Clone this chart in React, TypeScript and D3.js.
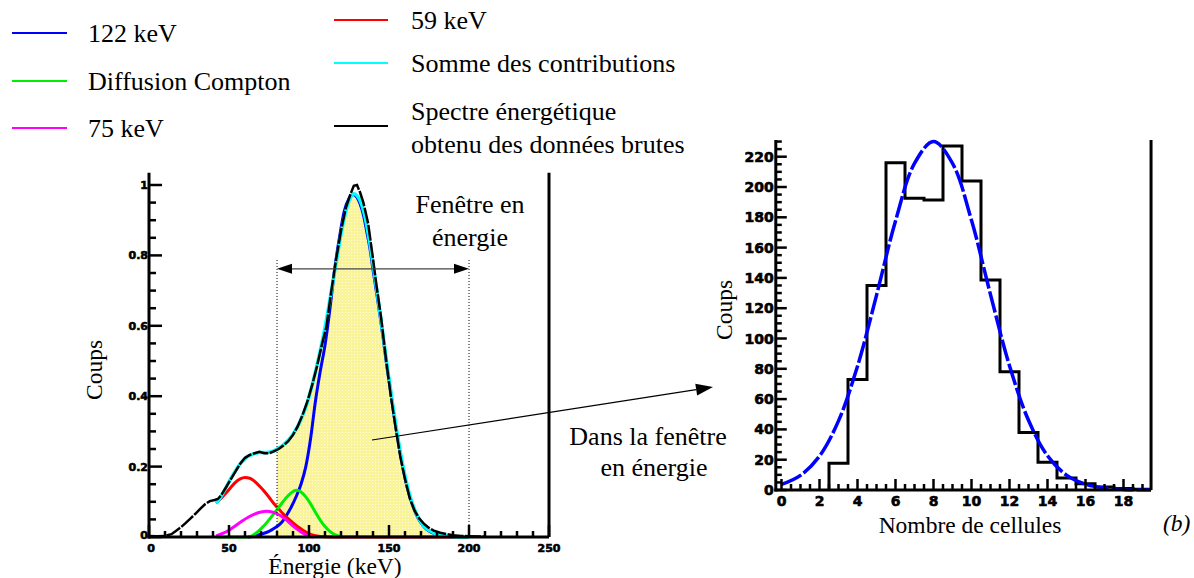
import React from 'react';
import * as d3 from 'd3';

// ---------- Left chart (energy spectrum) ----------
type P = [number, number];
const spectrumRaw: P[] = [
  [0, 0.003], [5, 0.002], [10, 0.003], [14, 0.008], [17, 0.018], [20, 0.028], [23, 0.04], [26, 0.053],
  [29, 0.066], [32, 0.08], [35, 0.093], [38, 0.102], [41, 0.105], [43, 0.108], [45, 0.118], [48, 0.14],
  [51, 0.163], [54, 0.186], [57, 0.208], [60, 0.225], [63, 0.233], [66, 0.238], [69, 0.242], [72, 0.238],
  [75, 0.238], [78, 0.243], [81, 0.25], [84, 0.26], [87, 0.272], [90, 0.29], [93, 0.315], [96, 0.347],
  [99, 0.385], [102, 0.432], [105, 0.485], [108, 0.545], [111, 0.6], [114, 0.7], [117, 0.79], [120, 0.87],
  [123, 0.935], [126, 0.975], [128, 0.998], [130, 1.0], [132, 0.978], [134, 0.95], [137, 0.89], [140, 0.79],
  [142, 0.72], [145, 0.625], [148, 0.51], [151, 0.405], [154, 0.315], [157, 0.23], [160, 0.165], [163, 0.11],
  [166, 0.075], [169, 0.052], [172, 0.037], [175, 0.026], [178, 0.018], [182, 0.012], [186, 0.008],
  [190, 0.005], [195, 0.003], [200, 0.002], [210, 0.001],
];
const sumFit: P[] = [
  [42, 0.096], [45, 0.115], [48, 0.14], [51, 0.165], [54, 0.188], [57, 0.208], [60, 0.222], [63, 0.232],
  [66, 0.237], [69, 0.24], [72, 0.24], [75, 0.241], [78, 0.245], [81, 0.252], [84, 0.262], [87, 0.275],
  [90, 0.292], [93, 0.315], [96, 0.345], [99, 0.383], [102, 0.432], [105, 0.488], [108, 0.55], [111, 0.62],
  [114, 0.7], [117, 0.78], [120, 0.86], [123, 0.925], [126, 0.965], [128, 0.975], [130, 0.97], [132, 0.955],
  [135, 0.91], [138, 0.835], [141, 0.745], [144, 0.65], [147, 0.55], [150, 0.45], [153, 0.355], [156, 0.27],
  [159, 0.195], [162, 0.135], [165, 0.09], [168, 0.058], [171, 0.036], [174, 0.022], [178, 0.012],
  [182, 0.006], [186, 0.003], [190, 0.001], [200, 0.0],
];
const peak122: P[] = [
  [62, 0], [66, 0.003], [70, 0.008], [75, 0.016], [79, 0.027], [83, 0.042], [86, 0.062], [89, 0.086],
  [92, 0.115], [95, 0.15], [98, 0.2], [101, 0.28], [104, 0.385], [107, 0.47], [110, 0.545], [113, 0.645],
  [116, 0.76], [119, 0.85], [122, 0.925], [125, 0.962], [127.5, 0.973], [130, 0.965], [132, 0.945],
  [134, 0.915], [136, 0.87], [138, 0.822], [140, 0.76], [142.3, 0.692], [144.5, 0.625], [146.5, 0.56],
  [148.5, 0.49], [150.6, 0.427], [153, 0.35], [156, 0.265], [159, 0.19], [162, 0.13], [165, 0.087],
  [168, 0.055], [171, 0.034], [174, 0.02], [178, 0.01], [182, 0.005], [186, 0.002], [190, 0],
];
const peak59: P[] = [
  [42, 0.096], [45, 0.11], [48, 0.124], [51, 0.14], [54, 0.155], [57, 0.165], [60, 0.169], [63, 0.167],
  [66, 0.158], [69, 0.145], [72, 0.13], [75, 0.113], [78, 0.095], [81, 0.08], [84, 0.065], [87, 0.052],
  [90, 0.04], [93, 0.029], [96, 0.02], [99, 0.012], [102, 0.006], [105, 0.003], [110, 0.001], [120, 0],
  [200, 0],
];
const peak75: P[] = [
  [42, 0.003], [46, 0.01], [50, 0.019], [54, 0.032], [58, 0.045], [62, 0.056], [66, 0.065], [70, 0.071],
  [73.5, 0.073], [77, 0.071], [80, 0.066], [83, 0.058], [86, 0.048], [89, 0.035], [92, 0.024], [95, 0.014],
  [98, 0.007], [101, 0.002], [103, 0],
];
const compton: P[] = [
  [42, 0], [62, 0], [65, 0.005], [68, 0.015], [71, 0.028], [74, 0.043], [77, 0.06], [80, 0.078],
  [83, 0.096], [86, 0.113], [89, 0.126], [92, 0.133], [95, 0.128], [98, 0.114], [101, 0.094], [104, 0.07],
  [107, 0.048], [110, 0.03], [113, 0.016], [116, 0.007], [119, 0.002], [121, 0],
];
const energyTicks = [0, 50, 100, 150, 200, 250];
const countTicksLeft = [0, 0.2, 0.4, 0.6, 0.8, 1];
const windowKeV = [80, 200];
const windowArrowLevel = 0.762;
const windowTop = 0.787;

// ---------- Right chart (cell count histogram) ----------
const cellBins = [3, 4, 5, 6, 7, 8, 9, 10, 11, 12, 13, 14, 15, 16, 17, 18, 19];
const cellCounts = [17.6, 73, 135, 216, 192.5, 191.4, 227, 204, 138.6, 78, 38, 18.3, 8, 4.2, 2, 1, 0.5];
const gaussX = [0, 1, 2, 3, 4, 5, 6, 7, 8, 9, 10, 11, 12, 13, 14, 15, 16, 17, 18, 19, 19.45];
const gaussY = [3.7, 9.7, 22.4, 45.6, 81.7, 128.5, 177.6, 215.6, 230, 215.6, 178, 129, 82, 46, 22.6, 9.8,
  3.8, 1.3, 0.4, 0.15, 0.1];
const cellTicks = [0, 2, 4, 6, 8, 10, 12, 14, 16, 18];
const countTicksRight = [0, 20, 40, 60, 80, 100, 120, 140, 160, 180, 200, 220];

const SERIF = "'Liberation Serif', 'Times New Roman', Times, serif";
const SANS = "'DejaVu Sans', 'Liberation Sans', Arial, sans-serif";

const serif = (size: number, extra: React.CSSProperties = {}): React.CSSProperties => ({
  fontFamily: SERIF, fontSize: `${size}px`, fontWeight: 400, ...extra,
});
const sansBold = (size: number): React.CSSProperties => ({
  fontFamily: SANS, fontSize: `${size}px`, fontWeight: 700, stroke: '#000', strokeWidth: 0.6,
});

function interp(s: P[], x: number) {
  for (let i = 0; i < s.length - 1; i++) {
    if (x >= s[i][0] && x <= s[i + 1][0]) {
      const t = (x - s[i][0]) / (s[i + 1][0] - s[i][0]);
      return s[i][1] + t * (s[i + 1][1] - s[i][1]);
    }
  }
  return 0;
}

export default function App() {
  // left scales
  const xL = d3.scaleLinear().domain([0, 250]).range([149, 549]);
  const yL = d3.scaleLinear().domain([0, 1]).range([537, 185]);
  const lineL = d3.line<P>().x(d => xL(d[0])).y(d => yL(d[1])).curve(d3.curveMonotoneX);
  const lineRaw = d3.line<P>().x(d => xL(d[0])).y(d => yL(d[1])).curve(d3.curveLinear);
  const areaL = d3.area<P>().x(d => xL(d[0])).y0(yL(0)).y1(d => yL(d[1])).curve(d3.curveMonotoneX);
  const [wLo, wHi] = windowKeV;
  const fillPts: P[] = [[wLo, interp(sumFit, wLo)], ...sumFit.filter(d => d[0] > wLo && d[0] < wHi), [wHi, 0]];
  const yTopL = 1.035;
  const minorYL = d3.range(0, 1.0001, 0.05);
  const minorXL = d3.range(0, 250.001, 10);

  // right scales
  const xR = d3.scaleLinear().domain([0, 18]).range([781.5, 1123.5]);
  const yR = d3.scaleLinear().domain([0, 220]).range([490, 156.7]);
  const xMinR = -0.3, xMaxR = 19.45, yMaxR = 231;
  const histPts: P[] = [[cellBins[0] - 0.5, 0], ...cellBins.map((b, i) => [b - 0.5, cellCounts[i]] as P),
    [xMaxR, cellCounts[cellCounts.length - 1]]];
  const histLine = d3.line<P>().x(d => xR(d[0])).y(d => yR(d[1])).curve(d3.curveStepAfter);
  const fitLine = d3.line<number>().x((_, i) => xR(gaussX[i])).y(d => yR(d)).curve(d3.curveCatmullRom);
  const minorYR = d3.range(0, 230.001, 5);
  const minorXR = d3.range(0, 19.4, 0.5);

  const arrowHead = (x: number, y: number, dir: number) => {
    const L = 15, h = 5;
    return `M${x},${y} L${x - dir * L},${y - h} L${x - dir * L},${y + h} Z`;
  };

  // diagonal arrow
  const ax0 = 372, ay0 = 440, ax1 = 713, ay1 = 387;
  const ang = Math.atan2(ay1 - ay0, ax1 - ax0);
  const hl = 17, hw = 6;
  const bx = ax1 - hl * Math.cos(ang), by = ay1 - hl * Math.sin(ang);
  const diagHead = `M${ax1},${ay1} L${bx - hw * Math.sin(ang)},${by + hw * Math.cos(ang)} L${bx + hw * Math.sin(ang)},${by - hw * Math.cos(ang)} Z`;

  return (
    <svg width={1194} height={578} style={{ position: 'absolute', left: 0, top: 0, background: '#fff' }}>
      <defs>
        <pattern id="yel" width="3" height="3" patternUnits="userSpaceOnUse">
          <rect width="3" height="3" fill="#f9f39a" />
          <rect x="0" y="0" width="1" height="1" fill="#fffce0" />
        </pattern>
      </defs>
      <rect width={1194} height={578} fill="#fff" />

      {/* Legend */}
      <g fill="#000">
        <line x1={12} x2={67} y1={33} y2={33} stroke="#0000ff" strokeWidth={2} />
        <text x={88} y={42} style={serif(26)}>122 keV</text>
        <line x1={12} x2={67} y1={81} y2={81} stroke="#00ee00" strokeWidth={2} />
        <text x={88} y={90} style={serif(26)}>Diffusion Compton</text>
        <line x1={12} x2={67} y1={128} y2={128} stroke="#ff00ff" strokeWidth={2} />
        <text x={88} y={137} style={serif(26)}>75 keV</text>
        <line x1={334} x2={388} y1={20} y2={20} stroke="#ff0000" strokeWidth={2} />
        <text x={411} y={29} style={serif(26)}>59 keV</text>
        <line x1={334} x2={388} y1={63} y2={63} stroke="#00ffff" strokeWidth={2} />
        <text x={411} y={72} style={serif(26)}>Somme des contributions</text>
        <line x1={334} x2={388} y1={126} y2={126} stroke="#000" strokeWidth={2} />
        <text x={411} y={120} style={serif(26)}>Spectre énergétique</text>
        <text x={411} y={153} style={serif(26)}>obtenu des données brutes</text>
      </g>

      {/* Left chart */}
      <path d={areaL(fillPts) || ''} fill="url(#yel)" />
      <path d={lineL(peak122) || ''} fill="none" stroke="#0000ff" strokeWidth={3} />
      <path d={lineL(peak59) || ''} fill="none" stroke="#ff0000" strokeWidth={3} />
      <path d={lineL(compton) || ''} fill="none" stroke="#00ee00" strokeWidth={3} />
      <path d={lineL(peak75) || ''} fill="none" stroke="#ff00ff" strokeWidth={3} />
      <path d={lineL(sumFit) || ''} fill="none" stroke="#00ffff" strokeWidth={3.5} />
      <path d={lineRaw(spectrumRaw) || ''} fill="none" stroke="#000" strokeWidth={2.5} strokeDasharray="16 1.5" />

      {windowKeV.map(k => (
        <line key={k} x1={xL(k)} x2={xL(k)} y1={yL(windowTop)} y2={yL(0)} stroke="#000" strokeWidth={1} strokeDasharray="1 2" />
      ))}
      <line x1={xL(wLo) + 8} x2={xL(wHi) - 8} y1={yL(windowArrowLevel)} y2={yL(windowArrowLevel)} stroke="#444" strokeWidth={1.2} />
      <path d={arrowHead(xL(wLo), yL(windowArrowLevel), -1)} fill="#000" />
      <path d={arrowHead(xL(wHi), yL(windowArrowLevel), 1)} fill="#000" />
      <text x={470} y={213} textAnchor="middle" style={serif(26)}>Fenêtre en</text>
      <text x={470} y={246} textAnchor="middle" style={serif(26)}>énergie</text>

      {/* left axes */}
      <g stroke="#000">
        <line x1={xL(0)} x2={xL(0)} y1={yL(yTopL)} y2={yL(0) + 1.5} strokeWidth={3} />
        <line x1={xL(0) - 1.5} x2={xL(250)} y1={yL(0)} y2={yL(0)} strokeWidth={3} />
        <line x1={xL(250)} x2={xL(250)} y1={yL(yTopL)} y2={yL(0)} strokeWidth={3} />
        {minorYL.map(v => {
          const major = Math.abs(v / 0.2 - Math.round(v / 0.2)) < 1e-6;
          return <line key={'ly' + v} x1={xL(0)} x2={xL(0) + (major ? 13 : 7)} y1={yL(v)} y2={yL(v)} strokeWidth={2.5} />;
        })}
        {minorXL.map(v => {
          const major = v % 50 === 0;
          return <line key={'lx' + v} x1={xL(v)} x2={xL(v)} y1={yL(0)} y2={yL(0) - (major ? 12 : 6)} strokeWidth={2.5} />;
        })}
      </g>
      <g fill="#000">
        {countTicksLeft.map(v => (
          <text key={'lyt' + v} x={xL(0) - 1} y={yL(v) - (v === 0 ? 2 : 0)} dy="0.36em" textAnchor="end" style={sansBold(11)}>{String(+v.toFixed(1))}</text>
        ))}
        {energyTicks.map(v => (
          <text key={'lxt' + v} x={xL(v) + (v === 0 ? 2 : 0)} y={552} textAnchor="middle" style={sansBold(11)}>{v}</text>
        ))}
      </g>
      <text x={335} y={574} textAnchor="middle" style={serif(23.5)}>Énergie (keV)</text>
      <text transform="translate(102,370) rotate(-90)" textAnchor="middle" style={serif(23.5)}>Coups</text>

      {/* diagonal arrow */}
      <line x1={ax0} y1={ay0} x2={bx} y2={by} stroke="#000" strokeWidth={1.2} />
      <path d={diagHead} fill="#000" />
      <text x={648} y={445} textAnchor="middle" style={serif(26)}>Dans la fenêtre</text>
      <text x={654} y={476} textAnchor="middle" style={serif(26)}>en énergie</text>

      {/* Right chart */}
      <path d={histLine(histPts) || ''} fill="none" stroke="#000" strokeWidth={3} />
      <path d={fitLine(gaussY) || ''} fill="none" stroke="#0000ff" strokeWidth={3.5} strokeDasharray="22 3" />
      <g stroke="#000">
        <line x1={xR(xMinR)} x2={xR(xMinR)} y1={yR(yMaxR)} y2={yR(0) + 1.5} strokeWidth={3} />
        <line x1={xR(xMinR) - 1.5} x2={xR(xMaxR)} y1={yR(0)} y2={yR(0)} strokeWidth={3} />
        <line x1={xR(xMaxR)} x2={xR(xMaxR)} y1={yR(yMaxR)} y2={yR(0)} strokeWidth={3} />
        {minorYR.map(v => {
          const major = v % 20 === 0;
          return <line key={'ry' + v} x1={xR(xMinR)} x2={xR(xMinR) + (major ? 11 : 6)} y1={yR(v)} y2={yR(v)} strokeWidth={2.5} />;
        })}
        {minorXR.map(v => {
          const major = v % 2 === 0;
          return <line key={'rx' + v} x1={xR(v)} x2={xR(v)} y1={yR(0)} y2={yR(0) - (major ? 11 : 6)} strokeWidth={2.5} />;
        })}
      </g>
      <g fill="#000">
        {countTicksRight.map(v => (
          <text key={'ryt' + v} x={xR(xMinR) - 2} y={yR(v)} dy="0.36em" textAnchor="end" style={sansBold(14)}>{v}</text>
        ))}
        {cellTicks.map(v => (
          <text key={'rxt' + v} x={xR(v)} y={505.5} textAnchor="middle" style={sansBold(14)}>{v}</text>
        ))}
      </g>
      <text x={970} y={533} textAnchor="middle" style={serif(23.5)}>Nombre de cellules</text>
      <text transform="translate(732,310) rotate(-90)" textAnchor="middle" style={serif(23.5)}>Coups</text>
      <text x={1163} y={531} style={serif(23.5, { fontStyle: 'italic' })}>(b)</text>
    </svg>
  );
}
